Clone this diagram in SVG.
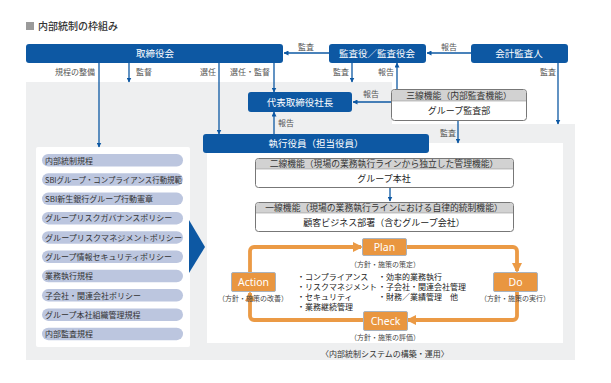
<svg xmlns="http://www.w3.org/2000/svg" width="611" height="383" viewBox="0 0 611 383">
<defs>
<style>
text{font-family:"Noto Sans CJK JP","Noto Sans",sans-serif}
.bar{fill:#0d58a3}
.bt{fill:#fff;font-size:9.5px;text-anchor:middle}
.lbl{fill:#555;font-size:8px}
.cn{stroke:#0d58a3;stroke-width:1.3;fill:none}
.pill{fill:#bcc6df}
.pt{fill:#333;font-size:8px}
.box{fill:#fff;stroke:#777;stroke-width:1}
.hd{fill:#d2d2d2}
.ht{fill:#333;font-size:8.8px;text-anchor:middle}
.btx{fill:#222;font-size:9px;text-anchor:middle}
.or{stroke:#eb9a45;stroke-width:3.8;fill:none;stroke-linejoin:round}
.pb{fill:#e99640;stroke:#a9b3bf;stroke-width:1}
.pbt{fill:#fff;font-size:10.5px;text-anchor:middle;font-family:"Noto Sans","Open Sans",sans-serif}
.sm{fill:#444;font-size:7px;text-anchor:middle}
.bl{fill:#222;font-size:8px}
</style>
<marker id="ab" viewBox="0 0 10 10" refX="9" refY="5" markerWidth="5" markerHeight="5" orient="auto" markerUnits="userSpaceOnUse"><path d="M0,0L10,5L0,10z" fill="#0d58a3"/></marker>
<marker id="ao" viewBox="0 0 10 10" refX="8" refY="5" markerWidth="10" markerHeight="10" orient="auto" markerUnits="userSpaceOnUse"><path d="M0,0L10,5L0,10z" fill="#eb9a45"/></marker>
</defs>
<rect width="611" height="383" fill="#fff"/>
<!-- title -->
<g id="title">
<rect x="26" y="22" width="8" height="8" fill="#9a9a9a"/>
<text x="38" y="30" font-size="10" fill="#333" font-weight="500">内部統制の枠組み</text>
</g>
<!-- gray background -->
<path d="M26,82H392V124H575V360H26Z" fill="#eeeff0"/>
<rect x="36" y="147" width="154" height="200" rx="2" fill="#fff"/>
<rect x="207" y="143" width="356" height="200" fill="#fff"/>
<path d="M189,220L205,247L189,273Z" fill="#0d58a3"/>
<!-- connectors -->
<g id="connectors">
<path class="cn" d="M329,53H284" marker-end="url(#ab)"/>
<path class="cn" d="M471,53H427" marker-end="url(#ab)"/>
<path class="cn" d="M99,63V147" marker-end="url(#ab)"/>
<path class="cn" d="M129,63V82" marker-end="url(#ab)"/>
<path class="cn" d="M219,63V134" marker-end="url(#ab)"/>
<path class="cn" d="M274,63V92" marker-end="url(#ab)"/>
<path class="cn" d="M352,63V82" marker-end="url(#ab)"/>
<path class="cn" d="M397,89V63" marker-end="url(#ab)"/>
<path class="cn" d="M391,102H353" marker-end="url(#ab)"/>
<path class="cn" d="M274,134V112" marker-end="url(#ab)"/>
<path class="cn" d="M558,63V124" marker-end="url(#ab)"/>
<path class="cn" d="M458,121V143" marker-end="url(#ab)"/>
<path class="cn" d="M390,188V201" marker-end="url(#ab)"/>
<text class="lbl" x="298" y="50">監査</text>
<text class="lbl" x="441" y="50">報告</text>
<text class="lbl" x="55" y="75">規程の整備</text>
<text class="lbl" x="136" y="75">監督</text>
<text class="lbl" x="200" y="75">選任</text>
<text class="lbl" x="230" y="75">選任・監督</text>
<text class="lbl" x="333" y="75">監査</text>
<text class="lbl" x="378" y="75">報告</text>
<text class="lbl" x="363" y="97">報告</text>
<text class="lbl" x="278" y="126">報告</text>
<text class="lbl" x="540" y="75">監査</text>
<text class="lbl" x="440" y="136">監査</text>
</g>
<!-- top nodes -->
<g id="board"><rect class="bar" x="26" y="44" width="257" height="19" rx="3"/><text class="bt" x="155" y="57">取締役会</text></g>
<g id="auditors"><rect class="bar" x="329" y="44" width="97" height="19" rx="3"/><text class="bt" x="377" y="57">監査役／監査役会</text></g>
<g id="accountant"><rect class="bar" x="471" y="44" width="97" height="19" rx="3"/><text class="bt" x="519" y="57">会計監査人</text></g>
<g id="president"><rect class="bar" x="248" y="92" width="104" height="20" rx="3"/><text class="bt" x="300" y="105.5">代表取締役社長</text></g>
<g id="officers"><rect class="bar" x="203" y="134" width="226" height="19" rx="3"/><text class="bt" x="316" y="147">執行役員（担当役員）</text></g>
<g id="line3">
<rect class="box" x="391.5" y="89.5" width="135" height="31" rx="3"/>
<path class="hd" d="M392,101V93a3,3 0 0 1 3,-3H523a3,3 0 0 1 3,3V101Z"/>
<path d="M392,101H526" stroke="#999" stroke-width="0.6"/>
<text class="ht" x="459" y="98.5">三線機能（内部監査機能）</text>
<text class="btx" x="459" y="114">グループ監査部</text>
</g>
<g id="line2">
<rect class="box" x="255.5" y="158.5" width="258" height="29" rx="3"/>
<path class="hd" d="M256,169V162a3,3 0 0 1 3,-3H510a3,3 0 0 1 3,3V169Z"/>
<path d="M256,169H513" stroke="#999" stroke-width="0.6"/>
<text class="ht" x="384" y="167">二線機能（現場の業務執行ラインから独立した管理機能）</text>
<text class="btx" x="384" y="182">グループ本社</text>
</g>
<g id="line1">
<rect class="box" x="255.5" y="202.5" width="258" height="29" rx="3"/>
<path class="hd" d="M256,213V206a3,3 0 0 1 3,-3H510a3,3 0 0 1 3,3V213Z"/>
<path d="M256,213H513" stroke="#999" stroke-width="0.6"/>
<text class="ht" x="384" y="211">一線機能（現場の業務執行ラインにおける自律的統制機能）</text>
<text class="btx" x="384" y="226">顧客ビジネス部署（含むグループ会社）</text>
</g>
<!-- rules list -->
<g id="rules">
<rect class="pill" x="42" y="154" width="141" height="12.5" rx="6.25"/><text class="pt" x="45" y="163.5">内部統制規程</text>
<rect class="pill" x="42" y="173.3" width="141" height="12.5" rx="6.25"/><text class="pt" x="45" y="182.8" textLength="137" lengthAdjust="spacingAndGlyphs">SBIグループ・コンプライアンス行動規範</text>
<rect class="pill" x="42" y="192.6" width="141" height="12.5" rx="6.25"/><text class="pt" x="45" y="202.1">SBI新生銀行グループ行動憲章</text>
<rect class="pill" x="42" y="211.9" width="141" height="12.5" rx="6.25"/><text class="pt" x="45" y="221.4">グループリスクガバナンスポリシー</text>
<rect class="pill" x="42" y="231.2" width="141" height="12.5" rx="6.25"/><text class="pt" x="45" y="240.7" textLength="137" lengthAdjust="spacingAndGlyphs">グループリスクマネジメントポリシー</text>
<rect class="pill" x="42" y="250.5" width="141" height="12.5" rx="6.25"/><text class="pt" x="45" y="260">グループ情報セキュリティポリシー</text>
<rect class="pill" x="42" y="269.8" width="141" height="12.5" rx="6.25"/><text class="pt" x="45" y="279.3">業務執行規程</text>
<rect class="pill" x="42" y="289.1" width="141" height="12.5" rx="6.25"/><text class="pt" x="45" y="298.6">子会社・関連会社ポリシー</text>
<rect class="pill" x="42" y="308.4" width="141" height="12.5" rx="6.25"/><text class="pt" x="45" y="317.9">グループ本社組織管理規程</text>
<rect class="pill" x="42" y="327.7" width="141" height="12.5" rx="6.25"/><text class="pt" x="45" y="337.2">内部監査規程</text>
</g>
<!-- PDCA loop -->
<g id="pdca-connectors">
<path class="or" d="M250,272V251a4,4 0 0 1 4,-4H361" marker-end="url(#ao)"/>
<path class="or" d="M407,247H513a4,4 0 0 1 4,4V271" marker-end="url(#ao)"/>
<path class="or" d="M517,292V316a4,4 0 0 1 -4,4H408" marker-end="url(#ao)"/>
<path class="or" d="M363,320H254a4,4 0 0 1 -4,-4V293" marker-end="url(#ao)"/>
</g>
<g id="plan"><rect class="pb" x="362.5" y="238.5" width="44" height="17" rx="1.5"/><text class="pbt" x="384.5" y="251">Plan</text><text class="sm" x="385" y="267">（方針・施策の策定）</text></g>
<g id="do"><rect class="pb" x="493.5" y="272.5" width="44" height="19" rx="1.5"/><text class="pbt" x="515.5" y="286">Do</text><text class="sm" x="515" y="301">（方針・施策の実行）</text></g>
<g id="action"><rect class="pb" x="231.5" y="272.5" width="44" height="19" rx="1.5"/><text class="pbt" x="253.5" y="286">Action</text><text class="sm" x="253" y="301">（方針・施策の改善）</text></g>
<g id="check"><rect class="pb" x="363.5" y="311.5" width="44" height="19" rx="1.5"/><text class="pbt" x="385.5" y="325">Check</text><text class="sm" x="385" y="340">（方針・施策の評価）</text></g>
<g id="items">
<text class="bl" x="297" y="280">・コンプライアンス</text>
<text class="bl" x="297" y="290">・リスクマネジメント</text>
<text class="bl" x="297" y="300">・セキュリティ</text>
<text class="bl" x="297" y="310">・業務継続管理</text>
<text class="bl" x="378" y="280">・効率的業務執行</text>
<text class="bl" x="378" y="290">・子会社・関連会社管理</text>
<text class="bl" x="378" y="300">・財務／業績管理　他</text>
</g>
<text x="385" y="357" font-size="8" fill="#333" text-anchor="middle">〈内部統制システムの構築・運用〉</text>
</svg>
